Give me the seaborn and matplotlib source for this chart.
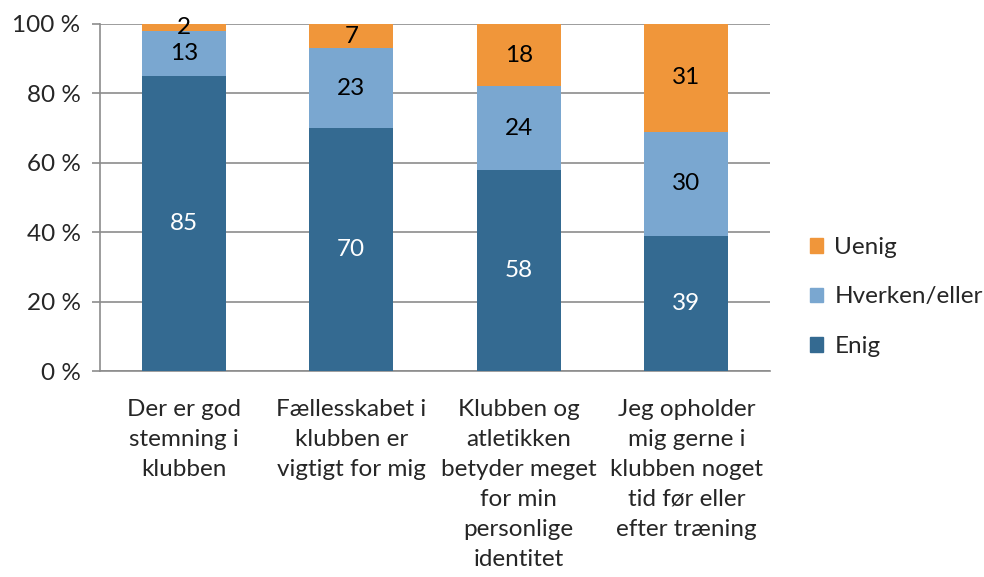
import numpy as np
import seaborn as sns
import matplotlib.pyplot as plt
from matplotlib.patches import Patch

# data
categories = [
    "Der er god\nstemning i\nklubben",
    "Fællesskabet i\nklubben er\nvigtigt for mig",
    "Klubben og\natletikken\nbetyder meget\nfor min\npersonlige\nidentitet",
    "Jeg opholder\nmig gerne i\nklubben noget\ntid før eller\nefter træning",
]
enig = [85, 70, 58, 39]
hverken = [13, 23, 24, 30]
uenig = [2, 7, 18, 31]
series_names = ["Enig", "Hverken/eller", "Uenig"]
colors = ["#346a91", "#7aa7d0", "#f0963a"]
text_colors = ["white", "black", "black"]

sns.set_style("white")
plt.rcParams["font.family"] = ["Lato", "DejaVu Sans"]
fs = 17.5

fig = plt.figure(figsize=(9.84, 5.77), dpi=100)
ax = fig.add_axes([100 / 984, 1 - 371 / 577, 670 / 984, 347 / 577])

bottom = np.zeros(len(categories))
for vals, name, col, tcol in zip([enig, hverken, uenig], series_names, colors, text_colors):
    sns.barplot(x=categories, y=vals, bottom=bottom, color=col, width=0.5,
                saturation=1, ax=ax, linewidth=0, zorder=3)
    cont = ax.containers[-1]
    ax.bar_label(cont, labels=[str(v) for v in vals], label_type="center",
                 color=tcol, fontsize=fs)
    bottom = bottom + np.array(vals)

ax.set_ylim(0, 100)
ax.set_xlim(-0.5, len(categories) - 0.5)
ax.set_yticks(range(0, 101, 20))
ax.set_yticklabels([f"{v} %" for v in range(0, 101, 20)], fontsize=fs)
ax.yaxis.grid(True, color="#8c8c8c", linewidth=1.2, zorder=0)
ax.set_axisbelow(True)

ax.set_xticks(range(len(categories)))
ax.set_xticklabels(categories, fontsize=fs, linespacing=1.53, va="top")
ax.set_xticks(np.arange(-0.5, len(categories)), minor=True)
ax.tick_params(axis="x", which="major", length=0, pad=20)
ax.tick_params(axis="x", which="minor", length=6, color="#8c8c8c", width=1.2)
ax.tick_params(axis="y", length=6, color="#8c8c8c", width=1.2, left=True, pad=8)

for s in ["top", "right"]:
    ax.spines[s].set_visible(False)
for s in ["left", "bottom"]:
    ax.spines[s].set_color("#8c8c8c")
    ax.spines[s].set_linewidth(1.2)

handles = [Patch(color=c, label=n) for n, c in zip(series_names, colors)][::-1]
fig.legend(handles=handles, loc="center left", bbox_to_anchor=(810 / 984, 1 - 297 / 577),
           frameon=False, fontsize=fs, labelspacing=1.17, handlelength=0.55,
           handleheight=0.55, handletextpad=0.45, borderpad=0, borderaxespad=0)

fig.savefig("out.png", dpi=100)
